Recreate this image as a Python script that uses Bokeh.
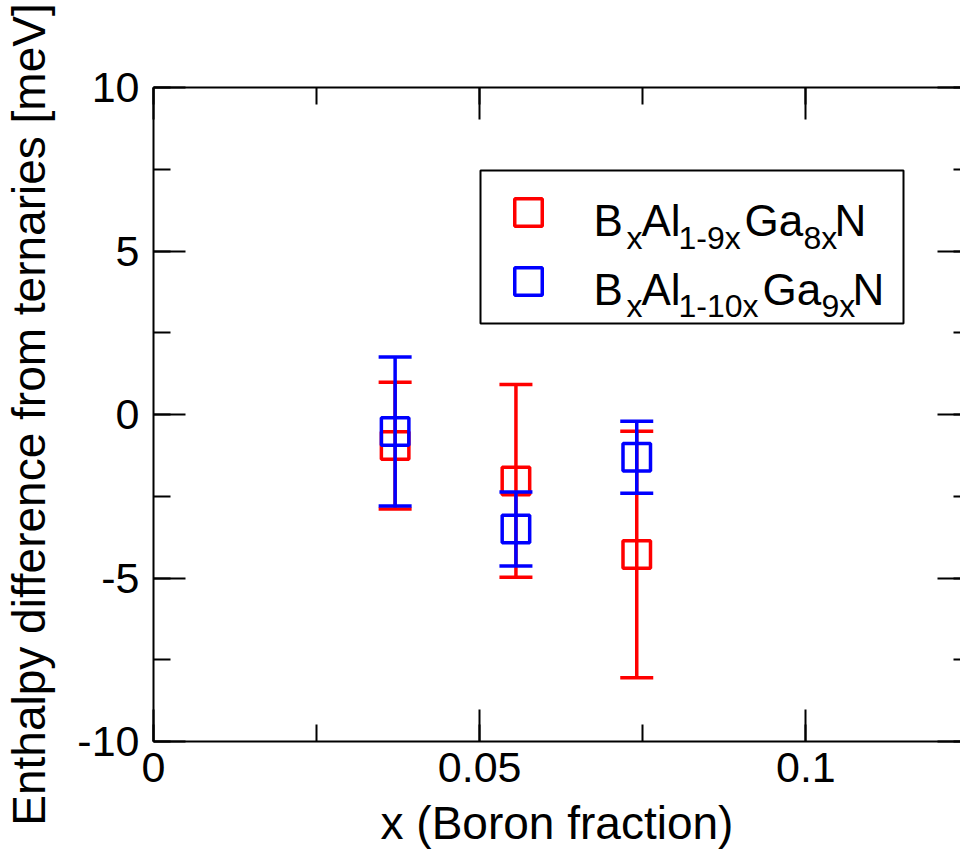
import numpy as np
from bokeh.plotting import figure
from bokeh.models import (Range1d, LinearAxis, SingleIntervalTicker,
                          NumeralTickFormatter, BoxAnnotation, Label)
from bokeh.embed import file_html
from bokeh.resources import INLINE

# ---- data -------------------------------------------------------------
# Boron fraction of the three supercells
boron_x = [1 / 27, 1 / 18, 2 / 27]

# B_x Al_(1-9x) Ga_(8x) N : enthalpy difference and its uncertainty [meV]
red_y = [-0.95, -2.03, -4.28]
red_err = [1.94, 2.95, 3.77]

# B_x Al_(1-10x) Ga_(9x) N : enthalpy difference and its uncertainty [meV]
blue_y = [-0.52, -3.50, -1.31]
blue_err = [2.28, 1.13, 1.10]

x_label = "x (Boron fraction)"
y_label = "Enthalpy difference from ternaries [meV]"

# legend text, split into (text, is_subscript) pieces
legend_red = [("B", False), ("x", True), ("Al", False), ("1-9x", True),
              ("Ga", False), ("8x", True), ("N", False)]
legend_blue = [("B", False), ("x", True), ("Al", False), ("1-10x", True),
               ("Ga", False), ("9x", True), ("N", False)]

# ---- style ------------------------------------------------------------
FONT = "Liberation Sans"
RED = "#ff0000"
BLUE = "#0000ff"
MARK_SIZE = 27.5
CAP_SIZE = 33
LW = 3.5

p = figure(width=960, height=852, output_backend="svg", toolbar_location=None,
           x_range=Range1d(0, 0.1237), y_range=Range1d(-10, 10),
           x_axis_location=None, y_axis_location=None,
           min_border_left=152, min_border_right=0,
           min_border_top=87, min_border_bottom=111)
p.outline_line_color = None
p.background_fill_color = "white"
p.border_fill_color = "white"
for g in p.grid:
    g.visible = False


def axis(interval, fmt=None, labels=True, **kw):
    ax = LinearAxis(ticker=SingleIntervalTicker(interval=interval, num_minor_ticks=2))
    ax.axis_line_color = "black"
    ax.axis_line_width = 2
    ax.major_tick_line_width = 2
    ax.minor_tick_line_width = 2
    ax.major_tick_out = 0
    ax.minor_tick_out = 0
    ax.major_tick_in = 32
    ax.minor_tick_in = 17
    ax.major_label_text_font = FONT
    ax.axis_label_text_font = FONT
    ax.axis_label_text_font_style = "normal"
    ax.axis_label_text_font_size = "46px"
    ax.axis_label_text_color = "black"
    if fmt is not None:
        ax.formatter = NumeralTickFormatter(format=fmt)
    if labels:
        ax.major_label_text_font_size = "43px"
        ax.major_label_text_color = "black"
    else:
        # tick marks only on the mirrored sides
        ax.major_label_text_font_size = "0px"
        ax.major_label_text_color = None
        ax.major_label_standoff = 0
    for k, v in kw.items():
        setattr(ax, k, v)
    return ax


bottom = axis(0.05, "0.[00]", axis_label=x_label,
              major_label_standoff=11, axis_label_standoff=12)
left = axis(5, "0", axis_label=y_label,
            major_label_standoff=14, axis_label_standoff=19)
top = axis(0.05, labels=False)
right = axis(5, labels=False, axis_line_color=None,
             major_tick_in=23, minor_tick_in=7)

p.add_layout(bottom, "below")
p.add_layout(left, "left")
p.add_layout(top, "above")
p.add_layout(right, "right")


# ---- error bars and markers ------------------------------------------
def series(y, err, color):
    y = np.asarray(y)
    err = np.asarray(err)
    lo, hi = y - err, y + err
    p.segment(x0=boron_x, y0=lo, x1=boron_x, y1=hi,
              line_color=color, line_width=LW)
    p.scatter(x=boron_x + boron_x, y=np.concatenate([lo, hi]), marker="dash",
              size=CAP_SIZE, line_color=color, line_width=LW)
    p.scatter(x=boron_x, y=y, marker="square", size=MARK_SIZE,
              fill_color=None, line_color=color, line_width=LW)


series(red_y, red_err, RED)
series(blue_y, blue_err, BLUE)

# ---- legend (screen units, measured from the frame's lower-left) ------
SCREEN = dict(left_units="screen", right_units="screen",
              bottom_units="screen", top_units="screen")
p.add_layout(BoxAnnotation(left=327, right=750, bottom=418, top=571, **SCREEN,
                           fill_color=None, fill_alpha=0,
                           line_color="black", line_alpha=1, line_width=2,
                           level="overlay"))

marker_cx = 375
half = MARK_SIZE / 2
for cy, color in ((529, RED), (460, BLUE)):
    p.add_layout(BoxAnnotation(left=marker_cx - half, right=marker_cx + half,
                               bottom=cy - half, top=cy + half, **SCREEN,
                               fill_color=None, fill_alpha=0,
                               line_color=color, line_alpha=1, line_width=3.5,
                               level="overlay"))

row_red_x = [440, 473, 488, 525, 591, 650, 681]
row_blue_x = [440, 473, 488, 525, 609, 668, 699]
for pieces, xs, base in ((legend_red, row_red_x, 521),
                         (legend_blue, row_blue_x, 452.5)):
    for (txt, sub), xx in zip(pieces, xs):
        p.add_layout(Label(x=xx, y=base - 17 if sub else base,
                           x_units="screen", y_units="screen",
                           text=txt, text_font=FONT,
                           text_font_size="32px" if sub else "44px",
                           text_color="black", text_baseline="alphabetic",
                           text_align="left", level="overlay"))

open("out.html", "w").write(file_html(p, INLINE))
